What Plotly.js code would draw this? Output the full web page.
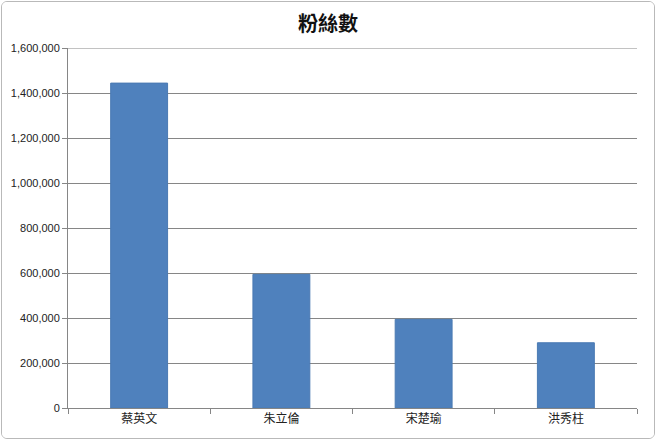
<!DOCTYPE html>
<html>
<head>
<meta charset="utf-8">
<script src="https://cdn.plot.ly/plotly-3.0.1.min.js"></script>
<style>
  body { margin: 0; background: #ffffff; }
  #chart { width: 652px; height: 436px; margin: 1px; border: 1px solid #b9b9b9; border-radius: 6px; overflow: hidden; }
</style>
</head>
<body>
<div id="chart"></div>
<script>
// candidates and fan counts
const candidates = ['蔡英文', '朱立倫', '宋楚瑜', '洪秀柱']
const fans = [1444000, 594000, 394000, 290000]
const yTicks = [0, 200000, 400000, 600000, 800000, 1000000, 1200000, 1400000, 1600000]
const yMax = 1600000

const trace = {
  type: 'bar',
  x: candidates,
  y: fans,
  marker: { color: '#4f81bd', line: { color: '#4a7ab3', width: 1 } },
  hoverinfo: 'x+y'
}

const layout = {
  width: 652,
  height: 436,
  margin: { l: 66, r: 17, t: 46, b: 30 },
  paper_bgcolor: '#ffffff',
  plot_bgcolor: '#ffffff',
  font: { family: 'Liberation Sans, "Noto Sans CJK TC", sans-serif', size: 11, color: '#222222' },
  title: {
    text: '粉絲數',
    font: { family: '"Noto Sans CJK TC", sans-serif', size: 20, color: '#111111', weight: 'bold' },
    x: 0.5, xanchor: 'center', y: 0.95, yanchor: 'middle'
  },
  bargap: 0.6,
  showlegend: false,
  xaxis: {
    type: 'category',
    showline: true, linecolor: '#868686', linewidth: 1,
    ticks: 'outside', tickson: 'boundaries', ticklen: 5, tickcolor: '#868686',
    tickfont: { family: '"Noto Sans CJK TC", sans-serif', size: 12 },
    showgrid: false
  },
  yaxis: {
    range: [0, yMax],
    tickvals: yTicks,
    ticktext: yTicks.map(v => v.toLocaleString('en-US')),
    showline: true, linecolor: '#868686', linewidth: 1,
    ticks: 'outside', ticklen: 5, tickcolor: '#868686',
    showgrid: true, gridcolor: '#868686', gridwidth: 1,
    zeroline: false
  },
  shapes: [{
    type: 'line', xref: 'paper', yref: 'y',
    x0: 0, x1: 1, y0: yMax, y1: yMax,
    line: { color: '#868686', width: 1 }, layer: 'below'
  }]
}

Plotly.newPlot('chart', [trace], layout, { displayModeBar: false })
</script>
</body>
</html>
